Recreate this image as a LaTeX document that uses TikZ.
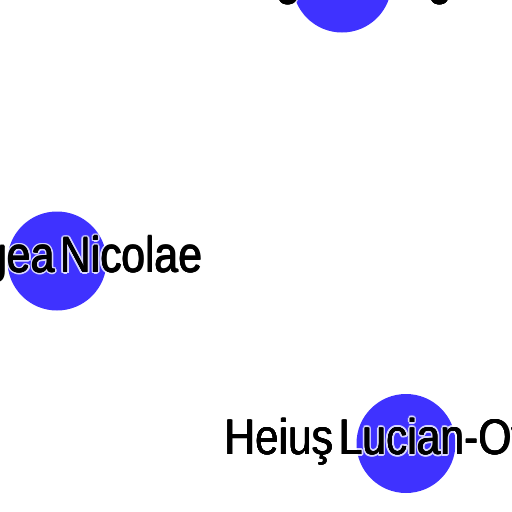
\documentclass[tikz,border=0pt]{standalone}
\usepackage{fontspec}
\newfontfamily\labelfont{Liberation Sans}[FakeStretch=0.85, WordSpace=0.5]
\usetikzlibrary{calc}
\definecolor{nodeblue}{RGB}{63,50,255}
\tikzset{
  vertex/.style={circle, fill=nodeblue, minimum size=99pt, inner sep=0pt},
  namehalo/.style={anchor=base, inner sep=0pt, text=white, font=\labelfont\fontsize{50}{50}\selectfont},
  nametext/.style={anchor=base, inner sep=0pt, text=black, font=\labelfont\fontsize{50}{50}\selectfont}
}
% label with a light halo, #1 node name, #2 base point, #3 text
\newcommand{\halolabel}[3]{%
  \begin{scope}[transparency group, opacity=0.8]
    \foreach \a in {0,30,...,330}
      \node[namehalo] at ($(#2)+(\a:2)$) {#3};
  \end{scope}
  \foreach \a in {0,90,180,270}
    \node[nametext] at ($(#2)+(\a:0.45)$) {#3};
  \node[nametext] (#1) at (#2) {#3};
}
\begin{document}
\begin{tikzpicture}[x=1pt, y=-1pt]
\useasboundingbox (0,0) rectangle (512,512);
\clip (0,0) rectangle (512,512);
% nodes
\node[vertex] (bogdan) at (342,-17) {};
\node[vertex] (giugea) at (57,261) {};
\node[vertex] (heius) at (406,443.5) {};
% labels
\coordinate (bogdanbase) at (348,-6);
\coordinate (giugeabase) at (60,272);
\coordinate (heiusbase) at (412,454.5);
\halolabel{bogdanlabel}{bogdanbase}{Bogdan Virgil}
\halolabel{giugealabel}{giugeabase}{Giugea Nicolae}
\halolabel{heiuslabel}{heiusbase}{Heiuş Lucian-Ovidiu}
\end{tikzpicture}
\end{document}
